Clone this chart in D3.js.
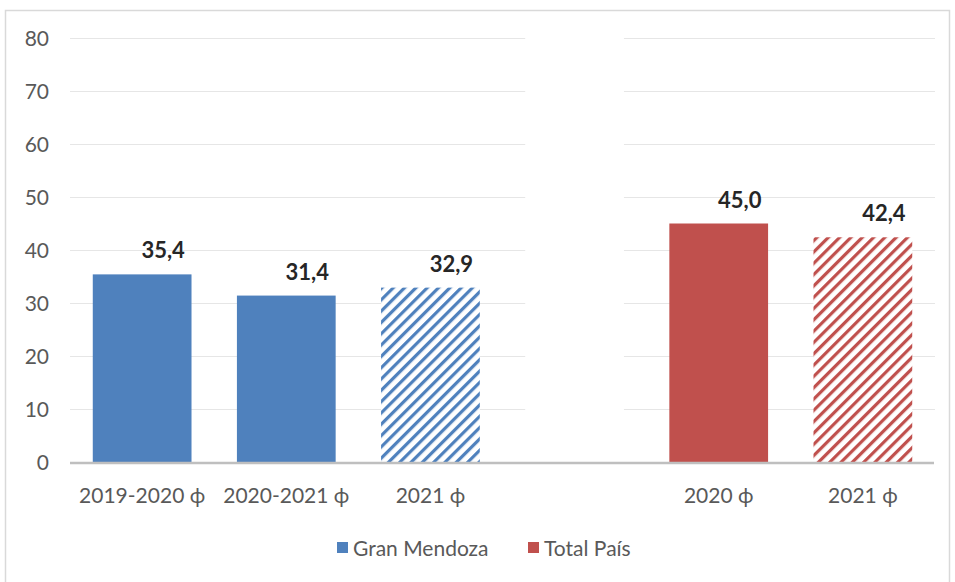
<!DOCTYPE html>
<html>
<head>
<meta charset="utf-8">
<script src="https://cdn.jsdelivr.net/npm/d3@7"></script>
<style>
  body { margin: 0; background: #fff; }
  text { font-family: Lato, "Liberation Sans", sans-serif; }
</style>
</head>
<body>
<script>
// categories (index 3 is the empty spacer slot)
const categories = ["2019-2020 ϕ", "2020-2021 ϕ", "2021 ϕ", "", "2020 ϕ", "2021 ϕ"];
const values = [35.4, 31.4, 32.9, null, 45.0, 42.4];
const series = ["Gran Mendoza", "Gran Mendoza", "Gran Mendoza", null, "Total País", "Total País"];
const hatched = [false, false, true, false, false, true];
const legendNames = ["Gran Mendoza", "Total País"];
const yTicks = [0, 10, 20, 30, 40, 50, 60, 70, 80];

const width = 955, height = 582;
const margin = { left: 70, right: 20, top: 38, bottom: 120 };
const colors = { "Gran Mendoza": "#4F81BD", "Total País": "#C0504D" };

const svg = d3.select("body").append("svg")
	.attr("width", width)
	.attr("height", height);

// hatch patterns
const defs = svg.append("defs");
legendNames.forEach((name, i) => {
	const p = defs.append("pattern")
		.attr("id", "hatch" + i)
		.attr("patternUnits", "userSpaceOnUse")
		.attr("width", 8)
		.attr("height", 8)
		.attr("patternTransform", "rotate(45)");
	p.append("rect").attr("width", 8).attr("height", 8).attr("fill", "#fff");
	p.append("rect").attr("x", 0).attr("width", 3.2).attr("height", 8).attr("fill", colors[name]);
});

// frame
svg.append("rect")
	.attr("x", 5.5).attr("y", 10.5)
	.attr("width", 944).attr("height", 575)
	.attr("fill", "none")
	.attr("stroke", "#D9D9D9")
	.attr("stroke-width", 1.5);

const x = d3.scaleBand()
	.domain(d3.range(categories.length))
	.range([margin.left, 935])
	.paddingInner(0.315)
	.paddingOuter(0.158);

const y = d3.scaleLinear()
	.domain([0, 80])
	.range([462, 38]);

// gridlines
svg.append("g")
	.selectAll("line")
	.data(yTicks.slice(1))
	.join("line")
	.attr("x1", margin.left)
	.attr("x2", 935)
	.attr("y1", d => y(d) + 0.5)
	.attr("y2", d => y(d) + 0.5)
	.attr("stroke", "#E6E6E6")
	.attr("stroke-width", 1.2);

// white spacer bar hides gridlines in the empty slot
svg.append("rect")
	.attr("x", x(3))
	.attr("y", y(80) - 2)
	.attr("width", x.bandwidth())
	.attr("height", y(0) - y(80) + 2)
	.attr("fill", "#fff");

// y tick labels
svg.append("g")
	.selectAll("text")
	.data(yTicks)
	.join("text")
	.attr("x", 49)
	.attr("y", d => y(d))
	.attr("dy", "0.36em")
	.attr("text-anchor", "end")
	.attr("font-size", 21)
	.attr("fill", "#595959")
	.text(d => d);

// bars
const bars = categories.map((c, i) => ({ i, v: values[i], s: series[i], h: hatched[i] }))
	.filter(d => d.v != null);

svg.append("g")
	.selectAll("rect")
	.data(bars)
	.join("rect")
	.attr("x", d => x(d.i))
	.attr("y", d => y(d.v))
	.attr("width", x.bandwidth())
	.attr("height", d => y(0) - y(d.v))
	.attr("fill", d => d.h ? `url(#hatch${legendNames.indexOf(d.s)})` : colors[d.s]);

// baseline
svg.append("line")
	.attr("x1", margin.left)
	.attr("x2", 934)
	.attr("y1", y(0) + 1)
	.attr("y2", y(0) + 1)
	.attr("stroke", "#BFBFBF")
	.attr("stroke-width", 2.5);

// value labels
svg.append("g")
	.selectAll("text")
	.data(bars)
	.join("text")
	.attr("x", d => x(d.i) + x.bandwidth() / 2 + 21)
	.attr("y", d => y(d.v) - 16)
	.attr("text-anchor", "middle")
	.attr("font-size", 22)
	.attr("font-weight", "bold")
	.attr("fill", "#262626")
	.text(d => d3.format(".1f")(d.v).replace(".", ","));

// x labels
svg.append("g")
	.selectAll("text")
	.data(categories.map((c, i) => ({ c, i })))
	.join("text")
	.attr("x", d => x(d.i) + x.bandwidth() / 2)
	.attr("y", 503)
	.attr("text-anchor", "middle")
	.attr("font-size", 21)
	.attr("fill", "#595959")
	.text(d => d.c);

// legend
const legendX = [337, 528];
const lg = svg.append("g")
	.selectAll("g")
	.data(legendNames)
	.join("g")
	.attr("transform", (d, i) => `translate(${legendX[i]},548)`);
lg.append("rect")
	.attr("x", 0).attr("y", -6)
	.attr("width", 11).attr("height", 11)
	.attr("fill", d => colors[d]);
lg.append("text")
	.attr("x", 16)
	.attr("y", 0)
	.attr("dy", "0.36em")
	.attr("font-size", 21)
	.attr("fill", "#595959")
	.text(d => d);
</script>
</body>
</html>
